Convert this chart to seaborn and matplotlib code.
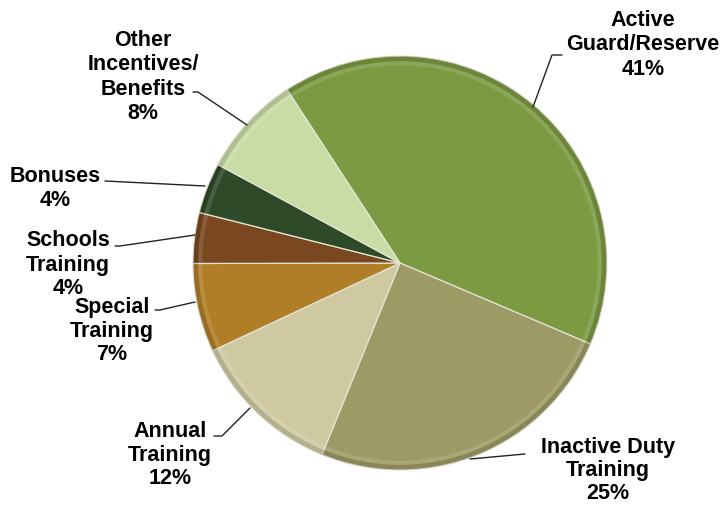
import matplotlib
matplotlib.use("Agg")
import matplotlib.pyplot as plt
import seaborn as sns

# ---- data ----
categories = ["Active\nGuard/Reserve", "Inactive Duty\nTraining", "Annual\nTraining",
              "Special\nTraining", "Schools\nTraining", "Bonuses",
              "Other\nIncentives/\nBenefits"]
percents = [41, 25, 12, 7, 4, 4, 8]
colors = ["#7c9a42", "#9e9a66", "#cfc9a2", "#b07e26", "#7a4820", "#2e4a28", "#c9dca6"]

sns.set_theme(style="white")
plt.rcParams["font.family"] = ["Liberation Sans", "DejaVu Sans"]

W, H = 724, 506
fig = plt.figure(figsize=(W / 100, H / 100), dpi=100)
ax = fig.add_axes([0, 0, 1, 1])

cx, cy, r = 400, H - 264, 207
start = 123.1

# main pie
ax.pie(percents, colors=colors, startangle=start, counterclock=False,
       center=(cx, cy), radius=r, frame=True,
       wedgeprops=dict(edgecolor="#e4e4d4", linewidth=0.9))
# bevel: subtle dark rim and faint inner highlight
ax.pie(percents, colors=["#000000"] * len(percents), startangle=start, counterclock=False,
       center=(cx, cy), radius=r, frame=True,
       wedgeprops=dict(width=r * 0.025, alpha=0.13, edgecolor="none"))
ax.pie(percents, colors=["#ffffff"] * len(percents), startangle=start, counterclock=False,
       center=(cx, cy), radius=r * 0.975, frame=True,
       wedgeprops=dict(width=r * 0.02, alpha=0.12, edgecolor="none"))
ax.set_xlim(0, W)
ax.set_ylim(0, H)
ax.set_aspect("equal")
ax.axis("off")

# label placement (text center x, first-line center y in image px) and leader lines
label_pos = [(643, 18), (608, 446), (170, 430), (112, 306), (68, 239), (55, 175), (143, 38)]
steps = [24.5, 23.0, 23.5, 23.5, 24.0, 23.5, 24.5]
leaders = [
    [(533, 108), (552, 56), (562, 56)],
    [(470, 460), (525, 455)],
    [(250, 409), (222, 437), (214, 437)],
    [(195, 303), (160, 311), (155, 311)],
    [(195, 236), (120, 247), (115, 247)],
    [(205, 187), (105, 182)],
    [(247, 126), (198, 93), (193, 93)],
]
fs = 15.5
for cat, p, (lx, ly), step, pts in zip(categories, percents, label_pos, steps, leaders):
    lines = cat.split("\n") + [f"{p}%"]
    for i, line in enumerate(lines):
        yc = ly + i * step
        ax.text(lx, H - yc - 7.5, line, ha="center", va="baseline", fontsize=fs,
                fontweight="bold", color="black")
    xs = [q[0] for q in pts]
    ys = [H - q[1] for q in pts]
    ax.plot(xs, ys, color="#222222", linewidth=1.0)

fig.savefig("out.png", dpi=100)
